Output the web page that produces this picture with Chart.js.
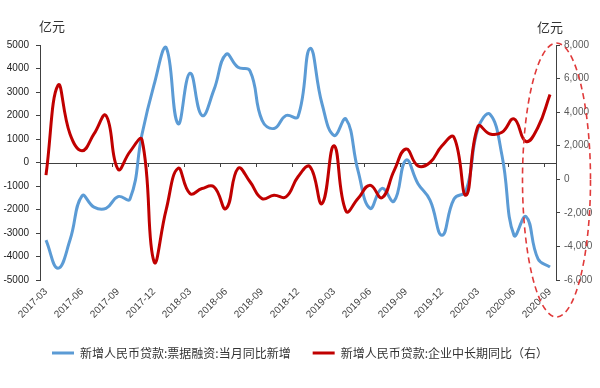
<!DOCTYPE html>
<html>
<head>
<meta charset="UTF-8">
<title>票据融资与企业中长期贷款</title>
<style>
	body { margin: 0; background: #fff; }
	#box { width: 600px; height: 388px; }
</style>
</head>
<body>
<div id="box"><canvas id="lineChart" width="600" height="388"></canvas></div>

<script src="https://cdn.jsdelivr.net/npm/chart.js"></script>
<script>
	// 月份
	const months = ['2017-03','2017-04','2017-05','2017-06','2017-07','2017-08','2017-09','2017-10','2017-11','2017-12',
		'2018-01','2018-02','2018-03','2018-04','2018-05','2018-06','2018-07','2018-08','2018-09','2018-10','2018-11','2018-12',
		'2019-01','2019-02','2019-03','2019-04','2019-05','2019-06','2019-07','2019-08','2019-09','2019-10','2019-11','2019-12',
		'2020-01','2020-02','2020-03','2020-04','2020-05','2020-06','2020-07','2020-08','2020-09'];

	// 新增人民币贷款:票据融资:当月同比新增 (左轴, 亿元)
	const billData = [-3300, -4500, -3300, -1420, -1900, -1950, -1450, -1550, 1200, 3300,
		4900, 1650, 3800, 2000, 3100, 4600, 4050, 3900, 1800, 1450, 2000, 1950,
		4850, 2500, 1150, 1850, -350, -1950, -1100, -1650, 100, -900, -1600, -3100,
		-1550, -1200, 1450, 2050, 300, -3100, -2300, -4100, -4450];

	// 新增人民币贷款:企业中长期同比 (右轴, 亿元)
	const longData = [250, 5600, 2700, 1700, 2700, 3800, 600, 1650, 2350, -4900,
		-1850, 650, -850, -550, -450, -1750, 650, -150, -1150, -950, -1050, 150,
		750, -1450, 2000, -1900, -1150, -350, -1100, 500, 1800, 800, 1000, 2000,
		2500, -950, 3150, 2700, 2800, 3600, 2250, 3100, 5050];

	const seriesNames = ['新增人民币贷款:票据融资:当月同比新增', '新增人民币贷款:企业中长期同比（右）'];

	const tickFont = { family: "'Liberation Sans', Arial, sans-serif", size: 10 };
	const axisColor = '#404040';

	// 0轴线和刻度, 单位, 虚线椭圆
	const extras = {
		id: 'extras',
		beforeDatasetsDraw(chart) {
			const ctx = chart.ctx;
			const area = chart.chartArea;
			const xs = chart.scales.x;
			const y0 = chart.scales.y.getPixelForValue(0);
			ctx.save();
			ctx.strokeStyle = axisColor;
			ctx.lineWidth = 1;
			ctx.beginPath();
			ctx.moveTo(area.left, Math.round(y0) + 0.5);
			ctx.lineTo(area.right, Math.round(y0) + 0.5);
			for (let i = 2.5; i < months.length - 1; i += 3) {
				const x = Math.round(xs.getPixelForValue(i)) + 0.5;
				ctx.moveTo(x, Math.round(y0));
				ctx.lineTo(x, Math.round(y0) + 4);
			}
			ctx.stroke();
			ctx.restore();
		},
		afterDraw(chart) {
			const ctx = chart.ctx;
			const area = chart.chartArea;
			ctx.save();
			ctx.fillStyle = '#333';
			ctx.font = "13px 'Noto Sans CJK SC', sans-serif";
			ctx.textBaseline = 'middle';
			ctx.textAlign = 'left';
			ctx.fillText('亿元', area.left - 1, area.top - 19);
			ctx.fillText('亿元', area.right - 19, area.top - 18);

			// 虚线椭圆
			const top = area.top - 2;
			const bottom = area.bottom + 37;
			ctx.strokeStyle = '#E03A3A';
			ctx.lineWidth = 1.6;
			ctx.setLineDash([6, 4]);
			ctx.beginPath();
			ctx.ellipse(area.right + 0.5, (top + bottom) / 2, 34, (bottom - top) / 2, 0, 0, Math.PI * 2);
			ctx.stroke();
			ctx.restore();
		}
	};

	const ctx = document.getElementById('lineChart').getContext('2d');
	const lineChart = new Chart(ctx, {
		type: 'line',
		data: {
			labels: months,
			datasets: [
				{
					label: seriesNames[0],
					data: billData,
					yAxisID: 'y',
					borderColor: '#5B9BD5',
					backgroundColor: '#5B9BD5',
					borderWidth: 3,
					pointRadius: 0,
					tension: 0.45,
					order: 1
				},
				{
					label: seriesNames[1],
					data: longData,
					yAxisID: 'y1',
					borderColor: '#C00000',
					backgroundColor: '#C00000',
					borderWidth: 3,
					pointRadius: 0,
					tension: 0.45,
					order: 0
				}
			]
		},
		options: {
			responsive: false,
			animation: false,
			layout: {
				padding: { top: 45, left: 0, right: 0, bottom: 19 }
			},
			scales: {
				x: {
					offset: true,
					grid: { display: false, drawTicks: false },
					border: { display: false },
					ticks: {
						autoSkip: false,
						minRotation: 45,
						maxRotation: 45,
						padding: 6,
						color: axisColor,
						font: tickFont,
						callback: function(value, index) {
							return index % 3 === 0 ? months[index] : '';
						}
					},
					afterFit: function(scale) { scale.height = 45; }
				},
				y: {
					position: 'left',
					min: -5000,
					max: 5000,
					grid: { drawOnChartArea: false, color: axisColor, tickLength: 4 },
					border: { color: axisColor },
					ticks: {
						stepSize: 1000,
						padding: 7,
						color: '#222',
						font: tickFont,
						callback: function(value) { return String(value); }
					},
					afterFit: function(scale) { scale.width = 40; }
				},
				y1: {
					position: 'right',
					min: -6000,
					max: 8000,
					grid: { drawOnChartArea: false, color: axisColor, tickLength: 4 },
					border: { color: axisColor },
					ticks: {
						stepSize: 2000,
						padding: 4,
						color: '#595959',
						font: tickFont,
						callback: function(value) { return value.toLocaleString('en-US'); }
					},
					afterFit: function(scale) { scale.width = 44; }
				}
			},
			plugins: {
				legend: {
					position: 'bottom',
					labels: {
						usePointStyle: true,
						pointStyle: 'line',
						pointStyleWidth: 22,
						boxHeight: 12,
						padding: 22,
						color: '#333',
						font: { family: "'Noto Sans CJK SC', sans-serif", size: 12 },
						sort: function(a, b) { return a.datasetIndex - b.datasetIndex; }
					}
				},
				tooltip: { enabled: false }
			}
		},
		plugins: [extras]
	});
</script>
</body>
</html>
